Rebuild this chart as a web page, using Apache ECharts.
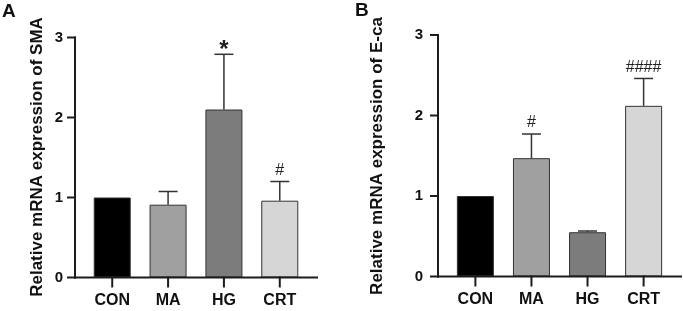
<!DOCTYPE html>
<html>
<head>
<meta charset="utf-8">
<script src="https://cdn.jsdelivr.net/npm/echarts@6/dist/echarts.min.js"></script>
<style>
  html, body { margin: 0; padding: 0; background: #fff; }
  #chart { width: 683px; height: 311px; }
</style>
</head>
<body>
<div id="chart"></div>
<script>
// data
const categories = ['CON', 'MA', 'HG', 'CRT'];
const smaMean = [1.0, 0.91, 2.10, 0.96];
const smaSd = [0, 0.165, 0.69, 0.24];
const smaMarks = ['', '', '*', '#'];
const ecaMean = [1.0, 1.47, 0.55, 2.12];
const ecaSd = [0, 0.30, 0.015, 0.34];
const ecaMarks = ['', '#', '', '####'];
const yTicks = [0, 1, 2, 3];
const yTitles = ['Relative mRNA expression of SMA', 'Relative mRNA expression of E-ca'];

const barColors = ['#000000', '#a0a0a0', '#7c7c7c', '#d6d6d6'];
const FONT = '"Liberation Sans", Arial, sans-serif';
const AXIS_COLOR = '#1c1c1c';

// category slots on a 0..13 value axis (wide margins either side, like the figure)
const X_MAX = 13;
const Y_MAX = yTicks[yTicks.length - 1];
const slot = i => 2 + 3 * i;
const slots = categories.map((c, i) => slot(i));

const chart = echarts.init(document.getElementById('chart'));

function barData(means) {
  return means.map((v, i) => ({
    value: [slot(i), v],
    itemStyle: { color: barColors[i] }
  }));
}

function errorRender(marks) {
  return function (params, api) {
    const x = api.value(0);
    const m = api.value(1);
    const sd = api.value(2);
    const children = [];
    const top = api.coord([x, m + sd]);
    if (sd > 0) {
      const base = api.coord([x, m]);
      const lineStyle = { stroke: '#333', lineWidth: 1.5 };
      children.push({ type: 'line', shape: { x1: base[0], y1: base[1], x2: top[0], y2: top[1] }, style: lineStyle });
      children.push({ type: 'line', shape: { x1: top[0] - 9.5, y1: top[1], x2: top[0] + 9.5, y2: top[1] }, style: lineStyle });
    }
    const mark = marks[params.dataIndex];
    if (mark) {
      const star = mark === '*';
      children.push({
        type: 'text',
        style: {
          text: mark,
          x: top[0],
          y: top[1] - (star ? 4 : 11),
          align: 'center',
          verticalAlign: 'middle',
          fill: '#222',
          font: (star ? 'bold 24px ' : '16px ') + FONT
        }
      });
    }
    return { type: 'group', children: children };
  };
}

// axis frame + ticks, placed through the axis scales
// item kinds: 0 = y tick, 1 = x tick, 2 = the two axis lines
const frameData = [[2, 0]]
  .concat(yTicks.map(v => [0, v]))
  .concat(slots.map(s => [1, s]));

function frameRender(params, api) {
  const kind = api.value(0);
  const v = api.value(1);
  const st = { stroke: AXIS_COLOR, lineWidth: 2, lineCap: 'square' };
  if (kind === 2) {
    const o = api.coord([0, 0]);
    const t = api.coord([0, Y_MAX]);
    const r = api.coord([X_MAX, 0]);
    return {
      type: 'group',
      children: [
        { type: 'line', shape: { x1: o[0], y1: o[1], x2: t[0], y2: t[1] }, style: st },
        { type: 'line', shape: { x1: o[0], y1: o[1], x2: r[0], y2: r[1] }, style: st }
      ]
    };
  }
  if (kind === 0) {
    const p = api.coord([0, v]);
    return { type: 'line', shape: { x1: p[0] - 7, y1: p[1], x2: p[0], y2: p[1] }, style: st };
  }
  const p = api.coord([v, 0]);
  return { type: 'line', shape: { x1: p[0], y1: p[1], x2: p[0], y2: p[1] + 9 }, style: st };
}

function xAxisCfg(gridIndex) {
  return {
    type: 'value',
    gridIndex: gridIndex,
    min: 0,
    max: X_MAX,
    interval: 1,
    splitLine: { show: false },
    axisLine: { show: false },
    axisTick: { show: false },
    axisLabel: {
      customValues: slots,
      formatter: v => categories[Math.round((v - 2) / 3)] || '',
      margin: 15,
      color: '#111',
      fontWeight: 'bold',
      fontSize: 16,
      fontFamily: FONT
    }
  };
}

function yAxisCfg(gridIndex, labelMargin) {
  return {
    type: 'value',
    gridIndex: gridIndex,
    min: 0,
    max: Y_MAX,
    interval: 1,
    splitLine: { show: false },
    axisLine: { show: false },
    axisTick: { show: false },
    axisLabel: {
      margin: labelMargin,
      color: '#111',
      fontWeight: 'bold',
      fontSize: 15,
      fontFamily: FONT,
      formatter: v => (yTicks.indexOf(v) >= 0 ? String(v) : '')
    }
  };
}

function yTitle(text, x, y) {
  return {
    type: 'text',
    x: x,
    y: y,
    rotation: Math.PI / 2,
    style: { text: text, x: 0, y: 0, align: 'center', verticalAlign: 'middle', font: 'bold 17px ' + FONT, fill: '#111' }
  };
}

function barSeries(idx, means) {
  return {
    type: 'bar',
    xAxisIndex: idx,
    yAxisIndex: idx,
    barWidth: 37,
    itemStyle: { borderColor: '#333', borderWidth: 1 },
    data: barData(means)
  };
}

function errorSeries(idx, means, sds, marks) {
  return {
    type: 'custom',
    xAxisIndex: idx,
    yAxisIndex: idx,
    renderItem: errorRender(marks),
    encode: { x: 0, y: 1 },
    data: means.map((v, i) => [slot(i), v, sds[i]]),
    z: 3
  };
}

function frameSeries(idx) {
  return {
    type: 'custom',
    xAxisIndex: idx,
    yAxisIndex: idx,
    silent: true,
    clip: false,
    renderItem: frameRender,
    data: frameData,
    z: 10
  };
}

const option = {
  animation: false,
  backgroundColor: '#fff',
  grid: [
    { left: 75, top: 37.5, width: 242, height: 240 },
    { left: 438, top: 35, width: 243, height: 241.5 }
  ],
  xAxis: [xAxisCfg(0), xAxisCfg(1)],
  yAxis: [yAxisCfg(0, 12), yAxisCfg(1, 15)],
  graphic: [
    { type: 'text', left: 2, top: 2, style: { text: 'A', font: 'bold 19px ' + FONT, fill: '#111' } },
    { type: 'text', left: 355, top: 1, style: { text: 'B', font: 'bold 19px ' + FONT, fill: '#111' } },
    yTitle(yTitles[0], 37.5, 157),
    yTitle(yTitles[1], 377.5, 156)
  ],
  series: [
    barSeries(0, smaMean),
    errorSeries(0, smaMean, smaSd, smaMarks),
    frameSeries(0),
    barSeries(1, ecaMean),
    errorSeries(1, ecaMean, ecaSd, ecaMarks),
    frameSeries(1)
  ]
};

chart.setOption(option);
</script>
</body>
</html>
